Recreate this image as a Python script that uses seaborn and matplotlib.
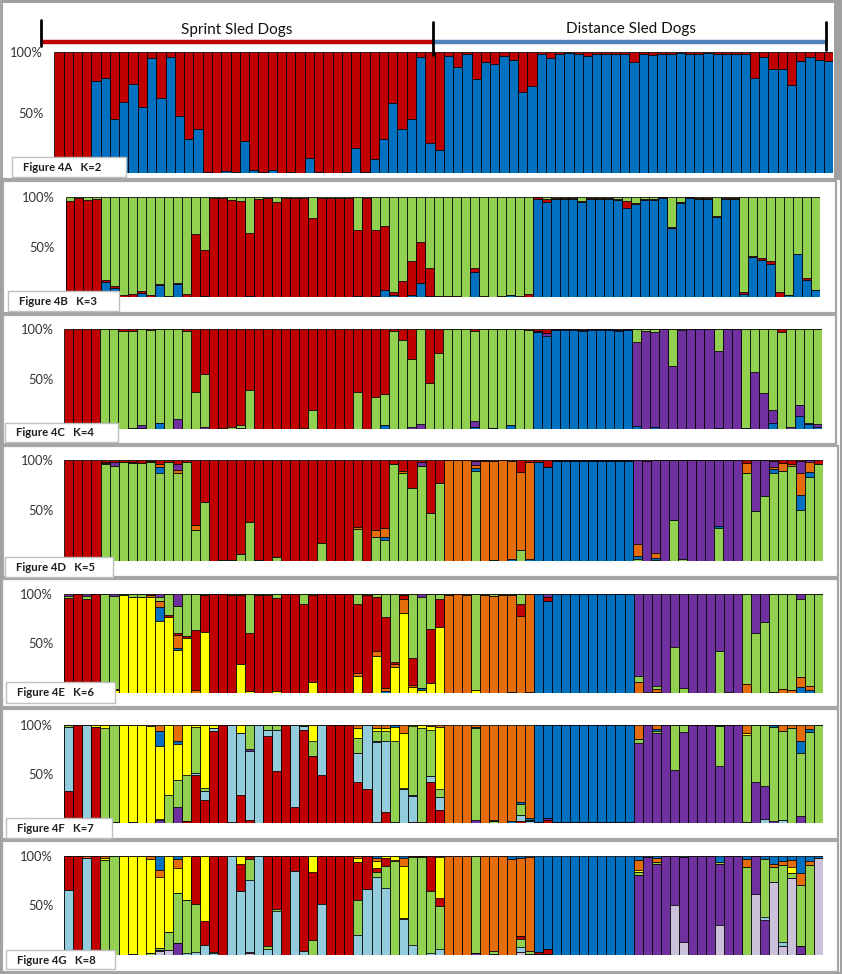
import matplotlib
matplotlib.use("Agg")
import matplotlib.pyplot as plt
import seaborn as sns
import numpy as np
import pandas as pd
from matplotlib.patches import Rectangle

sns.set_style("white")
plt.rcParams['font.family'] = ['Lato', 'DejaVu Sans']

W, H = 842, 974

# ---------------- data (fractions per individual, 84 individuals) ----------------
# Panel A, K=2 (bottom -> top: blue, red)
A_blue = [0, 0, 0, 0, .76, .79, .45, .59, .74, .55,
          .95, .62, .96, .47, .28, .37, .01, .005, .02, .01,
          .27, .03, .01, .03, .005, .01, .005, .13, .01, 0,
          0, .01, .21, .01, .12, .28, .58, .37, .45, .96,
          .25, .19, .97, .88, .99, .78, .92, .905, .97, .94,
          .67, .72, .99, .95, .99, .995, .99, .97, .99, .99,
          .99, .99, .92, .99, .98, .99, .99, .995, .99, .99,
          .995, .99, .99, .99, .99, .79, .96, .86, .86, .73,
          .93, .96, .94, .93]
A_red = [1, 1, 1, 1, .24, .21, .55, .41, .26, .45,
         .05, .38, .04, .53, .72, .63, .99, .995, .98, .99,
         .73, .97, .99, .97, .995, .99, .995, .87, .99, 1,
         1, .99, .79, .99, .88, .72, .42, .63, .55, .04,
         .75, .81, .03, .12, .01, .22, .08, .095, .03, .06,
         .33, .28, .01, .05, .01, .005, .01, .03, .01, .01,
         .01, .01, .08, .01, .02, .01, .01, .005, .01, .01,
         .005, .01, .01, .01, .01, .21, .04, .14, .14, .27,
         .07, .04, .06, .07]

# Panel B, K=3 (blue, red, green)
B_blue = [0, 0, 0, 0, .15, .09, 0, 0, .04, 0,
          .12, 0, .13, 0, 0, .01, 0, 0, 0, 0,
          .01, 0, 0, 0, 0, 0, 0, 0, 0, 0,
          0, 0, .01, 0, .01, .07, .02, 0, .02, .14,
          .01, 0, 0, 0, 0, .25, 0, 0, 0, .02,
          0, 0, .98, .95, .98, .98, .98, .95, .98, .98,
          .98, .97, .89, .93, .97, .97, .99, .69, .94, .99,
          .98, .98, .80, .98, .98, .03, .40, .37, .33, 0,
          .02, .43, .17, .07]
B_red = [.96, .99, .97, .98, .02, .02, .02, .03, .02, .02,
         .01, .01, .01, .03, .63, .46, .99, .99, .97, .96,
         .63, .98, .99, .95, .99, .99, .99, .79, .99, .99,
         .99, .99, .66, .99, .66, .64, .03, .16, .34, .41,
         .28, .01, .01, .01, 0, .04, .01, 0, .01, 0,
         .01, .03, .02, .03, .01, .01, .01, .01, .01, .01,
         .01, .01, .07, .01, .01, .01, .01, .01, .01, .01,
         .01, .01, .01, .01, .01, .02, .01, .02, .03, .05,
         0, 0, .02, 0]
B_green = [.04, .01, .03, .02, .83, .89, .98, .97, .94, .98,
           .87, .99, .86, .97, .37, .53, .01, .01, .03, .04,
           .36, .02, .01, .05, .01, .01, .01, .21, .01, .01,
           .01, .01, .33, .01, .33, .29, .95, .84, .64, .45,
           .71, .99, .99, .99, 1, .71, .99, 1, .99, .98,
           .99, .97, 0, .02, .01, .01, .01, .04, .01, .01,
           .01, .02, .04, .06, .02, .02, 0, .30, .05, 0,
           .01, .01, .19, .01, .01, .95, .59, .61, .64, .95,
           .98, .57, .81, .93]

# Panel C, K=4 (blue, purple, green, red)
C_blue = [0, 0, 0, 0, 0, 0, 0, 0, .01, 0,
          .06, 0, 0, 0, 0, 0, 0, 0, 0, 0,
          0, 0, 0, 0, 0, 0, 0, 0, 0, 0,
          0, 0, 0, 0, 0, .04, 0, 0, 0, 0,
          0, 0, 0, 0, 0, .02, 0, .01, 0, .04,
          0, 0, .97, .93, .99, .99, .99, .98, .99, .99,
          .99, .98, .99, .03, 0, .02, 0, 0, 0, 0,
          0, 0, .01, 0, 0, .01, 0, 0, .06, 0,
          0, .13, .05, .02]
C_purple = [0, 0, 0, 0, .01, .02, 0, .01, .03, 0,
            0, 0, .10, 0, 0, .02, 0, 0, 0, .01,
            0, 0, 0, 0, 0, 0, 0, 0, 0, 0,
            0, 0, 0, 0, 0, 0, 0, 0, .02, .05,
            0, 0, 0, 0, 0, .06, 0, 0, 0, 0,
            0, 0, .01, .03, .01, .01, .01, .01, .01, .01,
            .01, .01, .01, .84, .98, .95, 1, .63, .99, 1,
            1, 1, .77, 1, 1, 0, .57, .36, .13, 0,
            .02, .11, .01, .03]
C_green = [.01, 0, 0, 0, .99, .98, .98, .97, .96, .99,
           .94, 1, .90, .98, .37, .53, 0, .01, .02, .03,
           .39, 0, 0, 0, 0, 0, .01, .19, 0, 0,
           0, 0, .37, 0, .32, .31, .98, .89, .68, .95,
           .46, .76, 1, 1, 1, .90, 1, .99, 1, .96,
           1, .99, 0, 0, 0, 0, 0, 0, 0, 0,
           0, 0, 0, .13, .02, .03, 0, .37, .01, 0,
           0, 0, .22, 0, 0, .99, .43, .64, .81, .97,
           .98, .76, .94, .95]
C_red = [.99, 1, 1, 1, 0, 0, .02, .02, 0, .01,
         0, 0, 0, .02, .63, .45, 1, .99, .98, .96,
         .61, 1, 1, 1, 1, 1, .99, .81, 1, 1,
         1, 1, .63, 1, .68, .65, .02, .11, .30, 0,
         .54, .24, 0, 0, 0, .02, 0, 0, 0, 0,
         0, .01, .02, .04, 0, 0, 0, .01, 0, 0,
         0, .01, 0, 0, 0, 0, 0, 0, 0, 0,
         0, 0, 0, 0, 0, 0, 0, 0, 0, .03,
         0, 0, 0, 0]

# Panel D, K=5 (green, blue, orange, purple, red)
D_green = [.01, 0, 0, 0, .96, .94, .98, .97, .97, .98,
           .87, .98, .87, .98, .30, .58, 0, .01, .01, .07,
           .38, .01, 0, .04, 0, 0, 0, 0, .18, 0,
           0, 0, .31, 0, .24, .21, .96, .87, .72, .94,
           .47, .77, 0, 0, 0, .89, 0, .01, 0, 0,
           .11, 0, 0, 0, 0, 0, 0, 0, 0, 0,
           0, 0, 0, .02, 0, .01, 0, .40, .02, 0,
           0, 0, .32, 0, 0, .87, .49, .64, .87, .89,
           .94, .50, .83, .96]
D_blue = [0, 0, 0, 0, 0, 0, 0, 0, 0, 0,
          .06, 0, 0, 0, 0, 0, 0, 0, 0, 0,
          0, 0, 0, 0, 0, 0, 0, 0, 0, 0,
          0, 0, 0, 0, 0, .03, 0, 0, 0, 0,
          0, 0, 0, 0, 0, .03, 0, 0, 0, .02,
          0, .02, .98, .93, .99, .99, .99, .99, .99, .99,
          .99, .99, .99, .03, 0, .02, 0, 0, 0, 0,
          0, 0, .02, 0, 0, 0, 0, 0, .04, 0,
          0, .15, .05, 0]
D_orange = [0, 0, 0, 0, .01, 0, 0, 0, 0, .01,
            .03, 0, .03, 0, .05, 0, 0, 0, 0, 0,
            0, 0, 0, 0, 0, 0, 0, 0, 0, 0,
            0, 0, .02, 0, .06, .08, 0, .02, 0, 0,
            0, 0, 1, 1, 1, .03, .99, .98, 1, .97,
            .77, .96, 0, 0, 0, 0, 0, 0, 0, 0,
            0, 0, 0, .12, 0, .05, 0, 0, 0, 0,
            0, 0, 0, 0, 0, .10, 0, 0, .02, .08,
            .02, .22, .10, 0]
D_purple = [0, 0, 0, 0, .01, .04, 0, .01, 0, 0,
            0, 0, .06, 0, 0, 0, 0, 0, 0, 0,
            0, 0, 0, 0, 0, 0, 0, 0, 0, 0,
            0, 0, 0, 0, 0, 0, 0, 0, 0, .04,
            0, 0, 0, 0, 0, .04, .01, 0, 0, 0,
            0, 0, 0, 0, .01, .01, .01, .01, .01, .01,
            .01, .01, .01, .83, .99, .92, 1, .60, .98, 1,
            1, 1, .66, 1, 1, 0, .51, .36, .06, 0,
            0, .12, .02, 0]
D_red = [.99, 1, 1, 1, .02, .02, .02, .02, .03, .01,
         .04, .02, .04, .02, .65, .42, 1, .99, .99, .93,
         .62, .99, 1, .96, 1, 1, 1, 1, .82, 1,
         1, 1, .67, 1, .70, .68, .04, .11, .28, .02,
         .53, .23, 0, 0, 0, .01, 0, .01, 0, .01,
         .12, .02, .02, .07, 0, 0, 0, 0, 0, 0,
         0, 0, 0, 0, .01, 0, 0, 0, 0, 0,
         0, 0, 0, 0, 0, .03, 0, 0, .01, .03,
         .04, .01, 0, .04]

# Panel E, K=6 (yellow, blue, orange, red, green, purple)
E_yellow = [0, 0, 0, 0, 0, .03, .98, .96, .96, .96,
            .72, .76, .44, .55, 0, .61, 0, 0, 0, .29,
            .02, 0, 0, .02, 0, 0, 0, .11, 0, 0,
            0, 0, .17, 0, .37, 0, .26, .80, .06, .03,
            .10, .66, 0, 0, 0, .03, 0, 0, 0, 0,
            0, 0, 0, 0, 0, 0, 0, 0, 0, 0,
            0, 0, 0, 0, 0, 0, 0, 0, 0, 0,
            0, 0, 0, 0, 0, 0, 0, 0, .01, 0,
            0, 0, 0, 0]
E_blue = [0, 0, 0, 0, 0, 0, 0, 0, 0, 0,
          .14, 0, .02, 0, 0, 0, 0, 0, 0, 0,
          0, 0, 0, 0, 0, 0, 0, 0, 0, 0,
          0, 0, 0, 0, 0, .02, 0, 0, 0, .02,
          0, 0, 0, 0, 0, 0, 0, 0, 0, .01,
          0, .01, .99, .93, .99, .99, .99, .99, .99, .99,
          .99, .99, .99, 0, 0, .01, 0, 0, 0, 0,
          0, 0, 0, 0, 0, 0, 0, 0, 0, 0,
          0, .06, .03, 0]
E_orange = [0, 0, 0, 0, 0, 0, 0, 0, 0, .02,
            .06, 0, .13, 0, .03, 0, 0, 0, 0, 0,
            0, 0, 0, 0, 0, 0, 0, 0, 0, 0,
            0, 0, .03, 0, .05, .03, .03, .14, .02, 0,
            0, 0, .99, .99, .99, 0, .99, .97, .99, .98,
            .77, .98, 0, 0, 0, 0, 0, 0, 0, 0,
            0, 0, 0, .11, 0, .03, 0, 0, 0, 0,
            0, 0, 0, 0, 0, .09, 0, 0, 0, .04,
            .03, .10, .04, 0]
E_red = [.96, .99, .95, .99, 0, .01, 0, 0, 0, 0,
         0, .02, .02, .02, .60, .38, .99, 1, .99, .70,
         .58, .99, .99, .93, 1, 1, .89, .88, 1, 1,
         1, 1, .69, .99, .54, .72, .02, .04, .27, 0,
         .54, .28, 0, 0, 0, 0, 0, 0, 0, 0,
         .12, 0, 0, .04, 0, 0, 0, 0, 0, 0,
         0, 0, 0, 0, 0, 0, 0, 0, 0, 0,
         0, 0, 0, 0, 0, 0, 0, 0, 0, 0,
         0, 0, 0, 0]
E_green = [.02, 0, .03, 0, .99, .94, .01, .03, .03, .01,
           .04, .21, .27, .42, .37, .01, 0, 0, .01, .01,
           .39, .01, .01, .04, 0, 0, .10, .01, 0, 0,
           0, 0, .10, .01, .03, .23, .68, .01, .64, .92,
           .35, .05, .01, 0, .01, .96, .01, .02, .01, .01,
           .10, 0, 0, 0, 0, 0, 0, 0, 0, 0,
           0, 0, 0, .06, .01, .03, 0, .46, .05, 0,
           0, 0, .42, .01, 0, .90, .60, .71, .98, .95,
           .96, .79, .92, .98]
E_purple = [.02, 0, .02, 0, 0, .02, 0, 0, 0, 0,
            .03, 0, .13, 0, 0, 0, 0, 0, 0, 0,
            0, 0, 0, 0, 0, 0, 0, 0, 0, 0,
            0, 0, 0, 0, 0, 0, 0, 0, 0, .03,
            0, 0, 0, 0, 0, 0, 0, 0, 0, 0,
            0, 0, 0, .03, 0, 0, 0, 0, 0, 0,
            0, 0, 0, .83, .99, .93, 1, .54, .95, 1,
            1, 1, .58, .99, 1, 0, .40, .29, 0, 0,
            0, .05, 0, 0]

# Panel F, K=7 (red, light blue, purple, green, yellow, blue, orange)
F_red = [.32, .99, 0, .97, 0, 0, 0, 0, 0, 0,
         0, 0, 0, .02, .48, .23, .92, .99, .01, .28,
         .03, 0, .88, .53, .99, .16, .94, .67, .48, .99,
         .99, .99, .41, .34, .01, .11, 0, 0, .01, 0,
         .41, .13, 0, 0, 0, 0, 0, 0, 0, 0,
         .02, 0, 0, .03, 0, 0, 0, 0, 0, 0,
         0, 0, 0, 0, 0, 0, 0, 0, 0, 0,
         0, 0, 0, 0, 0, 0, 0, 0, 0, 0,
         0, 0, 0, 0]
F_lblue = [.64, 0, .99, 0, 0, 0, 0, .01, 0, 0,
           0, 0, 0, 0, .03, .09, .03, 0, .98, .62,
           .68, .99, .06, .41, 0, .83, .04, 0, .51, 0,
           0, 0, .29, .64, .81, .72, .01, .34, .26, 0,
           .06, .13, 0, 0, 0, 0, 0, 0, 0, 0,
           .06, .02, 0, 0, 0, 0, 0, 0, 0, 0,
           0, 0, 0, 0, 0, 0, 0, 0, 0, 0,
           0, 0, 0, 0, 0, 0, 0, .04, 0, .03,
           0, 0, 0, 0]
F_purple = [0, 0, 0, 0, 0, .01, 0, 0, 0, 0,
            .03, 0, .17, 0, 0, 0, 0, 0, 0, 0,
            .02, 0, 0, 0, 0, 0, 0, 0, 0, 0,
            0, 0, 0, 0, .01, 0, 0, 0, .01, .01,
            0, 0, 0, 0, 0, .03, 0, 0, 0, 0,
            0, 0, .01, .02, .01, .01, .01, .01, .01, .01,
            .01, .01, .01, .81, .99, .92, 1, .54, .92, 1,
            1, 1, .58, 1, 1, .01, .41, .33, .02, 0,
            0, .07, 0, 0]
F_green = [.02, 0, 0, 0, .96, .98, 0, 0, 0, 0,
           .01, .28, .27, .46, .46, .03, 0, 0, 0, 0,
           .24, 0, .05, .05, 0, 0, 0, .15, 0, 0,
           0, 0, .15, 0, .11, .10, .82, .01, .70, .94,
           .47, .08, 0, 0, 0, .93, 0, .02, 0, 0,
           .12, .01, 0, 0, 0, 0, 0, 0, 0, 0,
           0, 0, 0, .04, 0, .02, 0, .45, .07, 0,
           0, 0, .41, 0, 0, .89, .58, .62, .95, .91,
           .97, .64, .93, .98]
F_yellow = [0, 0, 0, .02, .03, 0, .99, .98, .99, .98,
            .74, .70, .36, .51, .02, .63, .03, 0, 0, .08,
            0, 0, 0, 0, 0, 0, .01, .16, 0, 0,
            0, 0, .10, 0, .03, .03, .14, .56, .01, .03,
            .04, .63, 0, 0, 0, 0, 0, 0, 0, 0,
            0, 0, 0, 0, 0, 0, 0, 0, 0, 0,
            0, 0, 0, 0, 0, 0, 0, 0, 0, 0,
            0, 0, 0, 0, 0, .02, 0, 0, 0, 0,
            0, 0, 0, 0]
F_blue = [0, 0, 0, 0, 0, 0, 0, 0, 0, 0,
          .15, 0, .03, 0, 0, 0, 0, 0, 0, 0,
          0, 0, 0, 0, 0, 0, 0, 0, 0, 0,
          0, 0, 0, 0, 0, 0, .02, 0, 0, 0,
          0, 0, 0, 0, 0, .01, 0, .01, 0, .02,
          .02, .02, .99, .95, .99, .99, .99, .99, .99, .99,
          .99, .99, .99, 0, 0, .02, 0, 0, 0, 0,
          0, 0, .01, 0, 0, 0, 0, 0, .02, 0,
          0, .12, .03, 0]
F_orange = [0, 0, 0, 0, 0, 0, 0, 0, 0, .01,
            .06, 0, .17, 0, 0, 0, 0, 0, 0, 0,
            0, 0, 0, 0, 0, 0, 0, 0, 0, 0,
            0, 0, .03, 0, .03, .03, 0, .08, 0, 0,
            .01, .02, 1, 1, 1, .02, 1, .97, 1, .98,
            .78, .95, 0, 0, 0, 0, 0, 0, 0, 0,
            0, 0, 0, .15, 0, .04, 0, 0, 0, 0,
            0, 0, 0, 0, 0, .08, 0, 0, 0, .06,
            .03, .17, .04, 0]

# Panel G, K=8 (lavender, purple, light blue, green, red, yellow, orange, blue)
G_lav = [0, 0, 0, 0, 0, 0, 0, 0, 0, 0,
         .04, .05, 0, 0, 0, 0, 0, 0, 0, 0,
         .02, 0, 0, 0, 0, 0, 0, 0, 0, 0,
         0, 0, 0, 0, 0, 0, 0, 0, 0, 0,
         0, 0, 0, 0, 0, 0, 0, .01, 0, 0,
         .03, .01, 0, 0, 0, 0, 0, 0, 0, 0,
         0, 0, 0, 0, 0, 0, 0, .51, .13, 0,
         0, 0, .30, 0, 0, 0, .62, 0, .74, .09,
         .78, .01, 0, .98]
G_purple = [0, 0, 0, 0, 0, 0, 0, 0, 0, 0,
            .01, 0, .12, 0, 0, 0, 0, 0, 0, 0,
            .01, 0, 0, 0, 0, 0, 0, 0, 0, 0,
            0, 0, 0, 0, 0, 0, 0, 0, 0, 0,
            0, 0, 0, 0, 0, .02, 0, 0, 0, 0,
            0, 0, .01, .01, 0, 0, 0, 0, 0, 0,
            0, 0, 0, .81, .98, .92, 1, .49, .86, 1,
            1, 1, .62, 1, 1, 0, .38, .35, 0, 0,
            0, .08, 0, 0]
G_lblue = [.64, 0, .97, 0, 0, 0, 0, .01, 0, 0,
           0, 0, 0, .02, .03, .10, .02, 0, .96, .63,
           .70, .98, .06, .44, 0, .84, .04, 0, .51, 0,
           0, 0, .20, .66, .79, .66, 0, .36, .10, 0,
           .02, .06, 0, 0, 0, 0, 0, 0, 0, 0,
           .05, 0, 0, 0, 0, 0, 0, 0, 0, 0,
           0, 0, 0, 0, 0, 0, 0, 0, 0, 0,
           0, 0, 0, 0, 0, 0, 0, .03, 0, .04,
           0, 0, 0, 0]
G_green = [0, 0, 0, 0, .96, .98, 0, 0, 0, .02,
           .02, .18, .51, .52, .47, 0, .01, 0, 0, 0,
           .21, 0, .03, .02, 0, 0, 0, .15, 0, 0,
           0, 0, .35, 0, .05, .22, .93, 0, .87, .96,
           .61, .43, 0, 0, 0, .95, 0, .03, 0, 0,
           .08, .03, 0, 0, 0, 0, 0, 0, 0, 0,
           0, 0, 0, .03, 0, .02, 0, 0, 0, 0,
           0, 0, .02, 0, 0, .89, 0, .59, .15, .78,
           .05, .62, .91, 0]
G_red = [.34, .99, 0, .97, 0, 0, 0, 0, 0, 0,
         0, 0, 0, 0, .47, .23, .95, .99, 0, .27,
         .03, 0, .89, .53, .99, .15, .94, .67, .48, 1,
         1, 1, .38, .33, .04, .08, .01, .01, .01, .01,
         .35, .07, 0, 0, 0, 0, 0, 0, 0, 0,
         .03, 0, .02, .05, 0, 0, 0, 0, 0, 0,
         0, 0, 0, 0, 0, 0, 0, 0, 0, 0,
         0, 0, 0, 0, 0, 0, 0, 0, 0, 0,
         0, 0, 0, 0]
G_yellow = [0, 0, 0, 0, .02, 0, .99, .98, .99, .95,
            .72, .75, .25, .44, 0, .64, 0, 0, 0, .08,
            0, 0, 0, 0, 0, 0, 0, .16, 0, 0,
            0, 0, .04, 0, .07, .02, .04, .53, 0, 0,
            0, .41, 0, 0, 0, 0, 0, 0, 0, 0,
            0, 0, 0, 0, 0, 0, 0, 0, 0, 0,
            0, 0, 0, .02, 0, 0, 0, 0, 0, 0,
            0, 0, 0, 0, 0, 0, 0, 0, 0, 0,
            .06, 0, 0, 0]
G_orange = [0, 0, .02, 0, .02, 0, 0, 0, 0, .03,
            .07, 0, .09, 0, 0, 0, 0, 0, 0, 0,
            0, 0, 0, 0, 0, 0, 0, 0, 0, 0,
            0, 0, .02, 0, .03, 0, 0, .08, 0, 0,
            0, .01, 1, 1, 1, 0, 1, .95, 1, .97,
            .79, .95, 0, 0, 0, 0, 0, 0, 0, 0,
            0, 0, 0, .10, 0, .04, 0, 0, 0, 0,
            0, 0, 0, 0, 0, .08, 0, 0, .03, .04,
            .07, .12, .04, 0]
G_blue = [0, 0, 0, 0, 0, 0, 0, 0, 0, 0,
          .14, 0, .03, 0, 0, 0, 0, 0, 0, 0,
          0, 0, 0, 0, 0, 0, 0, 0, 0, 0,
          0, 0, 0, 0, .02, 0, 0, .02, 0, 0,
          0, 0, 0, 0, 0, 0, 0, 0, 0, .03,
          .02, .01, .97, .94, 1, 1, 1, 1, 1, 1,
          1, 1, 1, .04, .01, .02, 0, 0, .01, 0,
          0, 0, .06, 0, 0, .03, 0, .03, .08, .05,
          .04, .17, .05, .02]

panel_labels = ["Figure 4A   K=2", "Figure 4B   K=3", "Figure 4C   K=4", "Figure 4D   K=5",
                "Figure 4E   K=6", "Figure 4F   K=7", "Figure 4G   K=8"]
tick_labels = ["50%", "100%"]
group_labels = ["Sprint Sled Dogs", "Distance Sled Dogs"]

# ---------------- styling ----------------
RED = "#C00000"
BLUE = "#0070C0"
GREEN = "#92D050"
PURPLE = "#7030A0"
ORANGE = "#E46C0A"
YELLOW = "#FFFF00"
LBLUE = "#93CDDD"
LAV = "#CCC1DA"

panels = [
    ([(A_blue, BLUE), (A_red, RED)], (54.3, 52.3, 833.3, 173.3)),
    ([(B_blue, BLUE), (B_red, RED), (B_green, GREEN)], (65.5, 197.3, 820.0, 296.7)),
    ([(C_blue, BLUE), (C_purple, PURPLE), (C_green, GREEN), (C_red, RED)], (64.4, 329.3, 821.7, 428.7)),
    ([(D_green, GREEN), (D_blue, BLUE), (D_orange, ORANGE), (D_purple, PURPLE), (D_red, RED)],
     (64.4, 460.0, 822.8, 560.7)),
    ([(E_yellow, YELLOW), (E_blue, BLUE), (E_orange, ORANGE), (E_red, RED), (E_green, GREEN),
      (E_purple, PURPLE)], (64.3, 593.7, 823.3, 693.0)),
    ([(F_red, RED), (F_lblue, LBLUE), (F_purple, PURPLE), (F_green, GREEN), (F_yellow, YELLOW),
      (F_blue, BLUE), (F_orange, ORANGE)], (64.3, 724.7, 823.3, 823.3)),
    ([(G_lav, LAV), (G_purple, PURPLE), (G_lblue, LBLUE), (G_green, GREEN), (G_red, RED),
      (G_yellow, YELLOW), (G_orange, ORANGE), (G_blue, BLUE)], (64.3, 856.0, 823.3, 955.0)),
]

frames = [(1, -5, 840, 179), (3, 181, 836, 313), (3, 315, 836, 444), (3, 446, 838, 577),
          (2, 579, 838, 707), (2, 709, 838, 839), (2, 841, 838, 972)]
label_boxes = [(12, 157, 126, 177), (8, 291, 119, 311), (5, 423, 118, 442), (5, 557, 113, 577),
               (6, 682, 115, 703), (6, 818, 112, 838), (6, 950, 115, 969)]

fig = plt.figure(figsize=(W / 100, H / 100), dpi=100, facecolor="white")


def fbox(x0, y0, x1, y1):
    return [x0 / W, 1 - y1 / H, (x1 - x0) / W, (y1 - y0) / H]


for comps, box in panels:
    ax = fig.add_axes(fbox(*box))
    M = np.array([c[0] for c in comps], dtype=float)
    assert M.shape[1] == 84, M.shape
    M = M / M.sum(axis=0, keepdims=True)
    cum = np.cumsum(M, axis=0)
    idx = np.arange(84)
    # draw from top cumulative layer down so each lower layer overlays the one above
    for li in range(len(comps) - 1, -1, -1):
        df = pd.DataFrame({"ind": idx, "q": cum[li]})
        sns.barplot(data=df, x="ind", y="q", color=comps[li][1], saturation=1, width=1.0,
                    edgecolor="black", linewidth=0.55, errorbar=None, ax=ax)
    ax.set_xlim(-0.5, 83.5)
    ax.set_ylim(0, 1)
    ax.set_xticks([])
    ax.set_yticks([0.5, 1.0])
    ax.set_yticklabels(tick_labels, fontsize=9.3, color="#333333")
    ax.tick_params(axis="y", length=0, pad=8)
    ax.set_xlabel("")
    ax.set_ylabel("")
    for s in ax.spines.values():
        s.set_visible(False)

# overlay for frames, header and labels (pixel coordinates)
ov = fig.add_axes([0, 0, 1, 1], zorder=10)
ov.set_xlim(0, W)
ov.set_ylim(H, 0)
ov.axis("off")
ov.patch.set_alpha(0)

ov.add_patch(Rectangle((0.8, 0.8), W - 1.6, H - 1.6, fill=False, ec="#A0A0A0", lw=2.2))
for (x0, y0, x1, y1) in frames:
    ov.add_patch(Rectangle((x0, y0), x1 - x0, y1 - y0, fill=False, ec="#A6A6A6", lw=1.6))
ov.add_patch(Rectangle((833.5, 0), 8.5, 179, fc="#A0A0A0", ec="none"))

for lab, (x0, y0, x1, y1) in zip(panel_labels, label_boxes):
    ov.add_patch(Rectangle((x0, y0), x1 - x0, y1 - y0, fc="white", ec="#BFBFBF", lw=1.0))
    ov.text(x0 + 11, (y0 + y1) / 2 + 0.5, lab, ha="left", va="center", fontsize=8.2,
            fontweight="bold", color="#1F1F1F")

# header: population bars
ov.plot([41, 432.5], [42, 42], color=RED, lw=3.2, solid_capstyle="butt")
ov.plot([432.5, 825.5], [42, 42], color="#4F81BD", lw=3.2, solid_capstyle="butt")
ov.plot([41, 41], [20, 46], color="black", lw=2.0)
ov.plot([432.5, 432.5], [22, 55], color="black", lw=2.0)
ov.plot([825.5, 825.5], [22, 50], color="black", lw=2.0)
ov.text(237, 30, group_labels[0], ha="center", va="center", fontsize=11, color="#111111")
ov.text(631, 29, group_labels[1], ha="center", va="center", fontsize=11, color="#111111")

fig.savefig("out.png", dpi=100, facecolor="white")
